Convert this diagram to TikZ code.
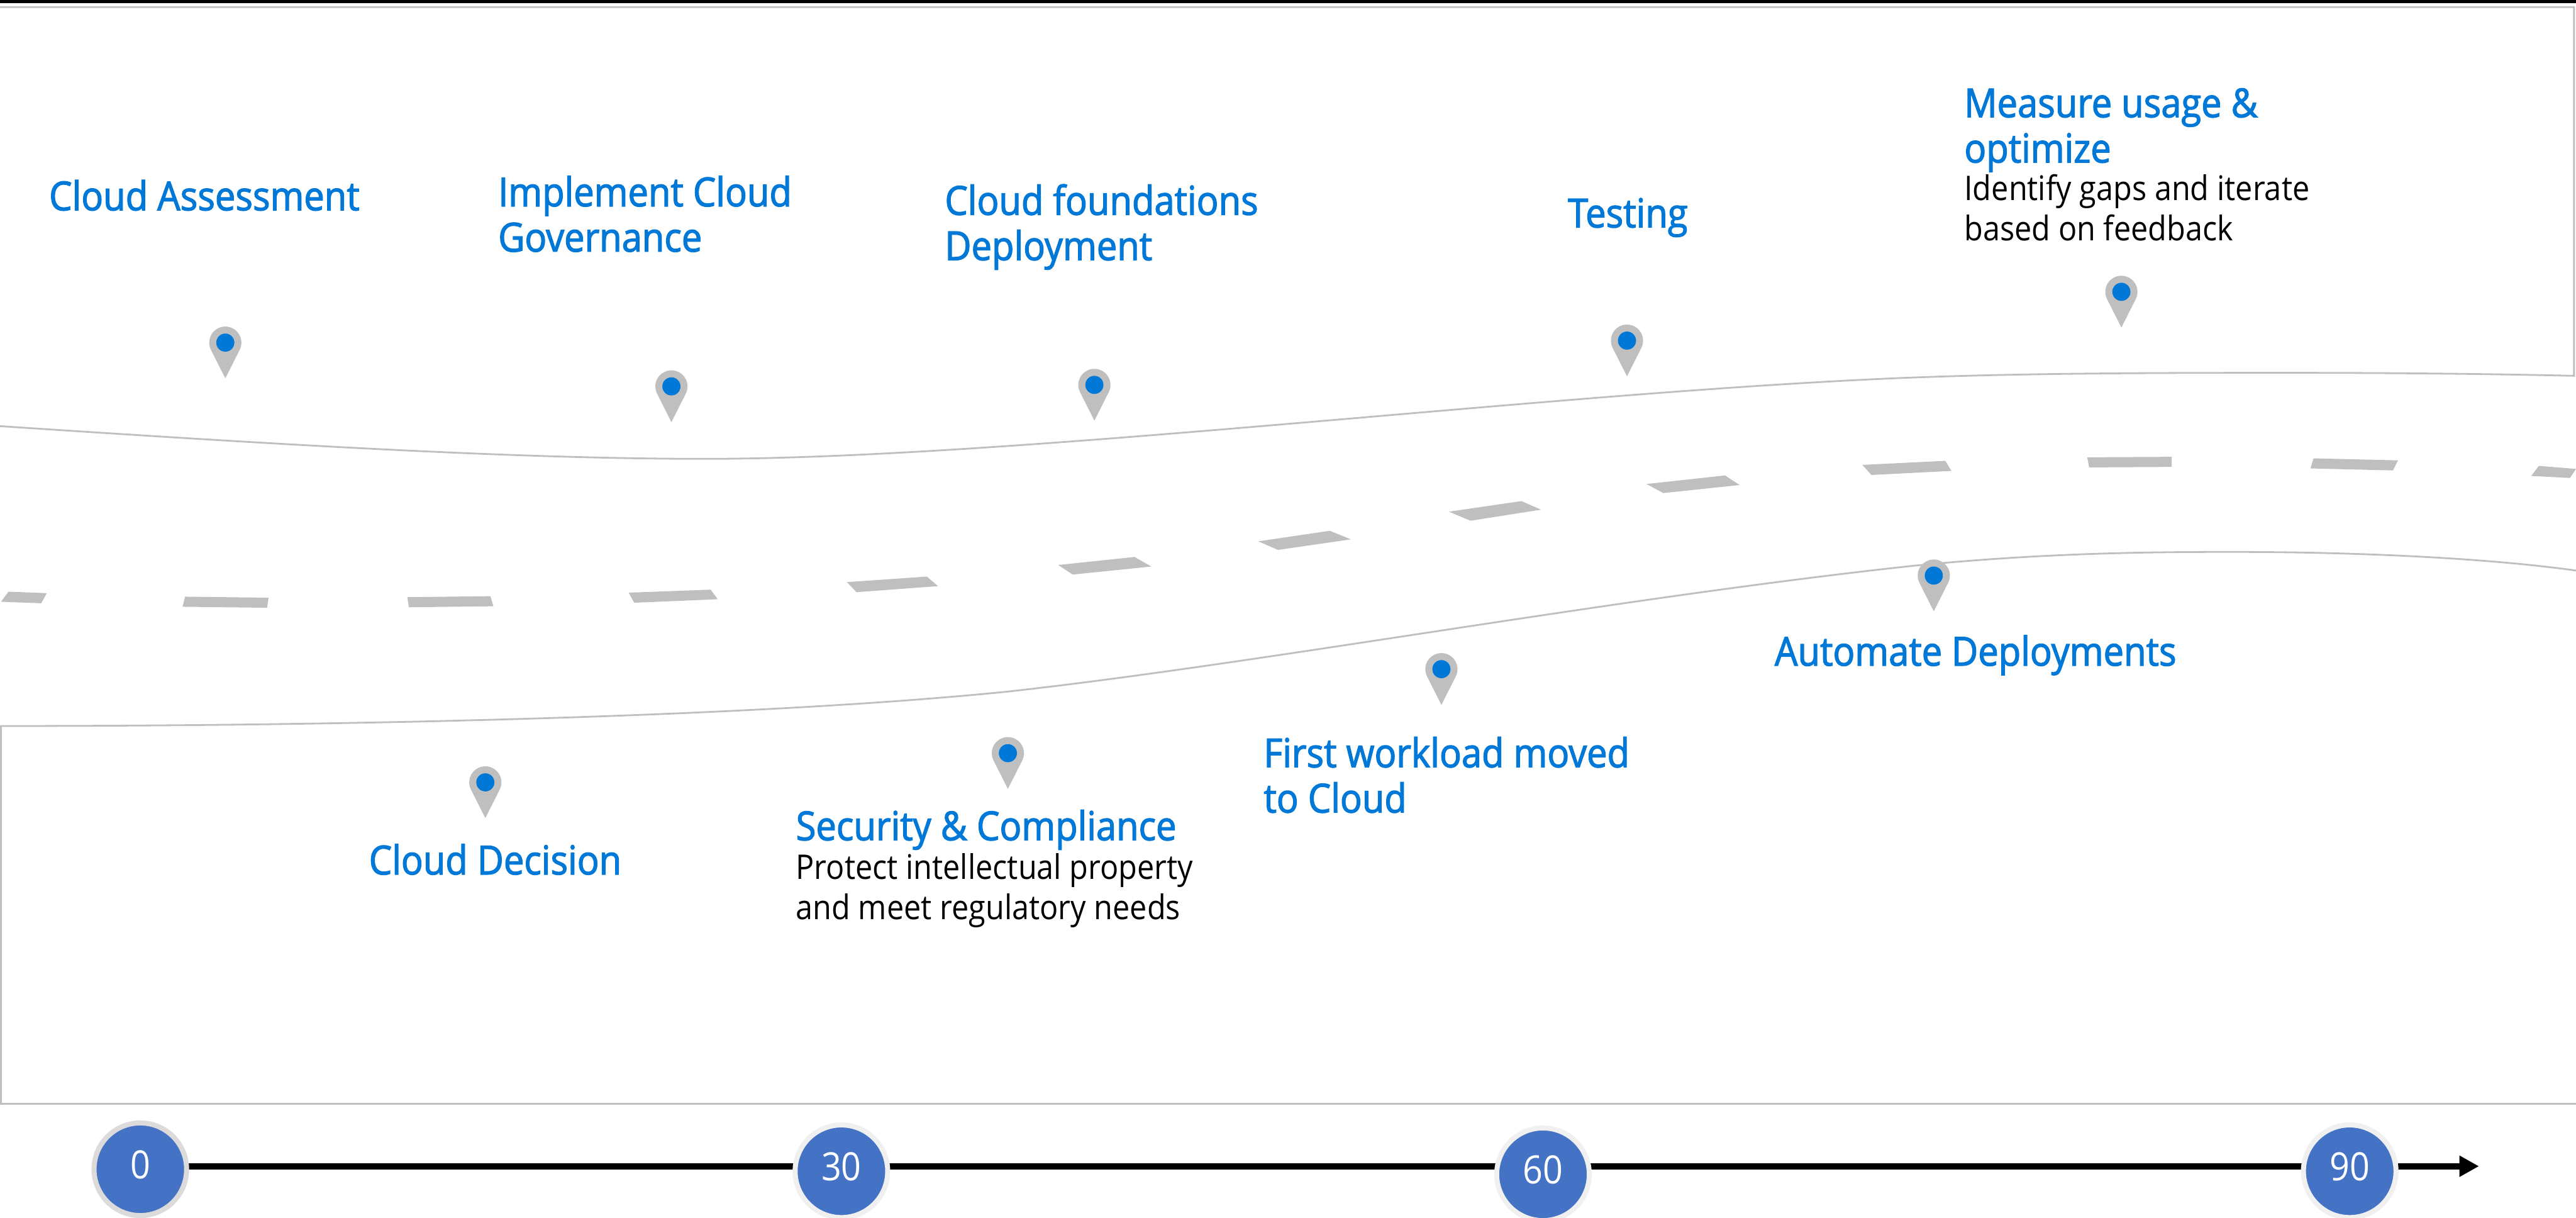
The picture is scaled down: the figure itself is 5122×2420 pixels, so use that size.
\documentclass[tikz,border=0pt]{standalone}
\usepackage{fontspec}
\usetikzlibrary{arrows.meta}
\setmainfont{Open Sans}[FakeStretch=0.90]
\newfontfamily\headfont{Open Sans}[FakeStretch=0.91,FakeBold=2]
\definecolor{roadgray}{HTML}{BFBFBF}
\definecolor{pinblue}{HTML}{0078D7}
\definecolor{dayblue}{HTML}{4472C4}
\definecolor{ringlight}{HTML}{F0F0F0}
\definecolor{ringdark}{HTML}{DCDADB}
\tikzset{
	pics/mappin/.style={code={
		\fill[roadgray] (0,71) -- (-28.6,14.4) arc[start angle=153.3,end angle=386.7,radius=32] -- cycle;
		\fill[pinblue] (0,0) circle (18);
	}}
}
\begin{document}
\begin{tikzpicture}
	 [x=0.01cm, y=-0.01cm,
	> = {Triangle[length=0.39cm,width=0.40cm]},
	edge/.style = {draw=roadgray, line width=0.035cm},
	roadmark/.style = {fill=roadgray},
	axisline/.style = {line width=0.13cm},
	heading/.style = {anchor=base west, inner sep=0, align=left, text=pinblue, font=\headfont\fontsize{22.6}{25.6}\selectfont},
	detail/.style = {anchor=base west, inner sep=0, align=left, font=\fontsize{19.2}{22.8}\selectfont},
	daynode/.style = {circle, draw=ringlight, fill=dayblue, line width=0.10cm, minimum size=1.84cm, inner sep=0, text=white, text height=0.54cm, text depth=0.16cm, font=\fontsize{22}{24}\selectfont}
	]
	\useasboundingbox (0,0) rectangle (5122,2420);
	\fill[black] (0,0) rectangle (5122,6);

	\draw[edge] (0,14) -- (5118,14) -- (5118,747) .. controls (4950,743) and (4750,741) .. (4537,741)
		.. controls (4250,741) and (3950,742) .. (3700,755)
		.. controls (3000,790) and (2000,912) .. (1400,912)
		.. controls (1000,912) and (500,880) .. (0,847);
	\draw[edge] (5122,1134) .. controls (4950,1110) and (4700,1097) .. (4435,1097)
		.. controls (4250,1097) and (4050,1100) .. (3800,1125)
		.. controls (3200,1190) and (2500,1320) .. (2000,1375)
		.. controls (1500,1425) and (700,1443) .. (2,1443) -- (2,2194) -- (5122,2194);

	\fill[roadmark] (17,1176) -- (93,1179) -- (82,1199) -- (2,1196) -- cycle;
	\fill[roadmark] (368,1186) -- (534,1188) -- (531,1208) -- (363,1206) -- cycle;
	\fill[roadmark] (810,1187) -- (975,1185) -- (981,1205) -- (813,1207) -- cycle;
	\fill[roadmark] (1250,1178) -- (1413,1172) -- (1427,1191) -- (1261,1198) -- cycle;
	\fill[roadmark] (1684,1157) -- (1843,1146) -- (1865,1165) -- (1703,1177) -- cycle;
	\fill[roadmark] (2104,1123) -- (2256,1107) -- (2289,1126) -- (2133,1142) -- cycle;
	\fill[roadmark] (2502,1076) -- (2644,1055) -- (2686,1072) -- (2541,1093) -- cycle;
	\fill[roadmark] (2881,1017) -- (3025,996) -- (3064,1013) -- (2924,1035) -- cycle;
	\fill[roadmark] (3274,962) -- (3430,945) -- (3459,964) -- (3307,980) -- cycle;
	\fill[roadmark] (3703,924) -- (3868,916) -- (3880,936) -- (3721,944) -- cycle;
	\fill[roadmark] (4150,909) -- (4318,908) -- (4318,928) -- (4154,929) -- cycle;
	\fill[roadmark] (4600,911) -- (4768,915) -- (4758,935) -- (4594,931) -- cycle;
	\fill[roadmark] (5048,926) -- (5122,932) -- (5110,950) -- (5033,946) -- cycle;

	\pic at (448,681) {mappin};
	\pic at (1335,768) {mappin};
	\pic at (2176,765) {mappin};
	\pic at (3235,677) {mappin};
	\pic at (4218,580) {mappin};
	\pic at (3845,1144) {mappin};
	\pic at (2866,1330) {mappin};
	\pic at (2004,1497) {mappin};
	\pic at (965,1555) {mappin};

	\node[heading] (assess) at (97,418) {Cloud Assessment};
	\node[heading] (govern) at (990,500) {Implement Cloud\\Governance};
	\node[heading] (found) at (1878,517) {Cloud foundations\\Deployment};
	\node[heading] (test) at (3117,452) {Testing};
	\node[heading] (measure) at (3905,323) {Measure usage \&\\optimize};
	\node[detail] (gaps) at (3905,478) {Identify gaps and iterate\\based on feedback};
	\node[heading] (automate) at (3528,1323) {Automate Deployments};
	\node[heading] (workload) at (2512,1615) {First workload moved\\to Cloud};
	\node[heading] (security) at (1582,1670) {Security \& Compliance};
	\node[detail] (protect) at (1582,1828) {Protect intellectual property\\and meet regulatory needs};
	\node[heading] (decision) at (733,1738) {Cloud Decision};

	\coordinate (axisstart) at (279,2318);
	\coordinate (axisend) at (4929,2318);
	\draw[->, axisline] (axisstart) -- (axisend);
	\node[daynode, draw=ringdark] (day0) at (279,2324) {0};
	\node[daynode] (day30) at (1673,2328) {30};
	\node[daynode] (day60) at (3068,2334) {60};
	\node[daynode] (day90) at (4672,2328) {90};
\end{tikzpicture}
\end{document}
